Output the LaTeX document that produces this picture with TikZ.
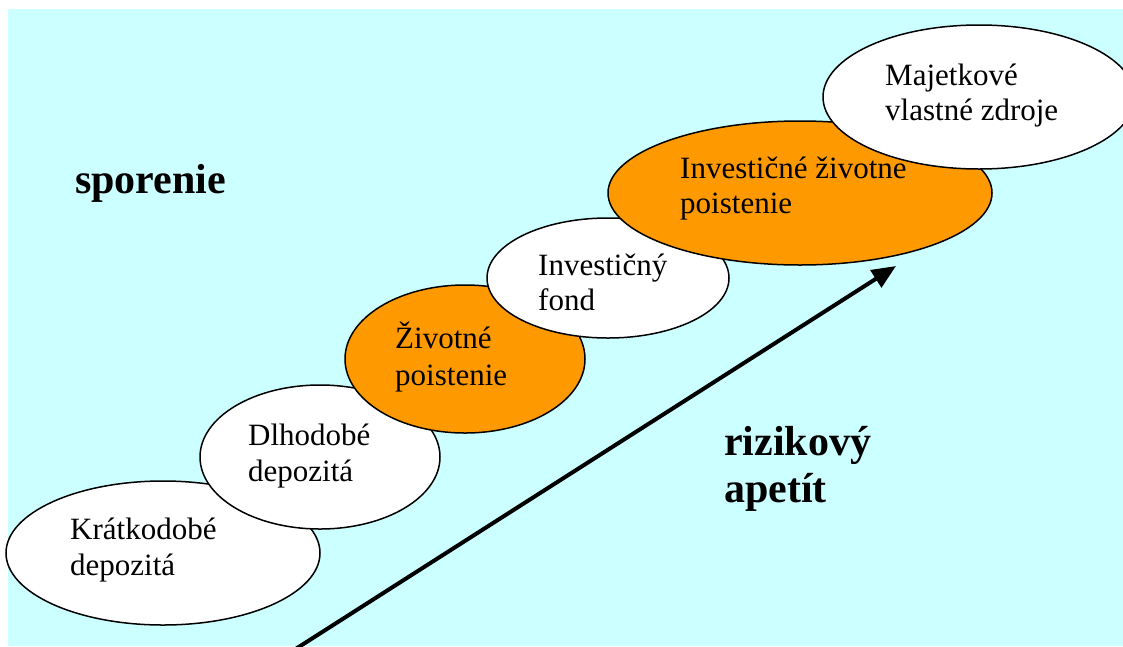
\documentclass[tikz,border=0pt]{standalone}
\usepackage{fontspec}
\setmainfont{Liberation Serif}
\usetikzlibrary{arrows.meta,shapes.geometric}
\definecolor{bgcyan}{HTML}{CCFFFF}
\definecolor{orng}{HTML}{FF9900}
\begin{document}
\begin{tikzpicture}[x=1pt,y=-1pt,
  ell/.style={ellipse,draw=black,line width=1.5pt,fill=white,inner sep=0pt},
  oell/.style={ell,fill=orng},
  lbl/.style={anchor=base west,inner sep=0pt,font=\fontsize{31}{36}\selectfont},
  big/.style={anchor=base west,inner sep=0pt,font=\fontsize{42}{47}\selectfont\bfseries}]
\useasboundingbox (0,0) rectangle (1123,646);
\clip (0,0) rectangle (1123,646);
\fill[bgcyan] (8,9) rectangle (1123,646);
\node[ell,minimum width=314pt,minimum height=144pt] (e1) at (163,553) {};
\node[lbl] (t1a) at (70,539) {Krátkodobé};
\node[lbl] (t1b) at (70,575) {depozitá};
\node[ell,minimum width=240pt,minimum height=144pt] (e2) at (320,457) {};
\node[lbl] (t2a) at (248,445) {Dlhodobé};
\node[lbl] (t2b) at (248,481) {depozitá};
\node[oell,minimum width=240pt,minimum height=148pt] (e3) at (465,359) {};
\node[lbl] (t3a) at (395,348) {Životné};
\node[lbl] (t3b) at (395,385) {poistenie};
\node[ell,minimum width=242pt,minimum height=120pt] (e4) at (608,278) {};
\node[lbl] (t4a) at (538,275) {Investičný};
\node[lbl] (t4b) at (538,310) {fond};
\node[oell,minimum width=384pt,minimum height=144pt] (e5) at (800,193) {};
\node[lbl] (t5a) at (680,178) {Investičné životne};
\node[lbl] (t5b) at (680,213) {poistenie};
\node[ell,minimum width=312pt,minimum height=144pt] (e6) at (979,97) {};
\node[lbl] (t6a) at (885,85) {Majetkové};
\node[lbl] (t6b) at (885,120) {vlastné zdroje};
\node[big] (spor) at (75,193) {sporenie};
\node[big] (riz1) at (724,455) {rizikový};
\node[big] (riz2) at (724,502) {apetít};
\coordinate (as) at (294,650);
\coordinate (ae) at (896,266);
\draw[line width=4pt,-{Triangle[length=24pt,width=20pt]}] (as) -- (ae);
\end{tikzpicture}
\end{document}
